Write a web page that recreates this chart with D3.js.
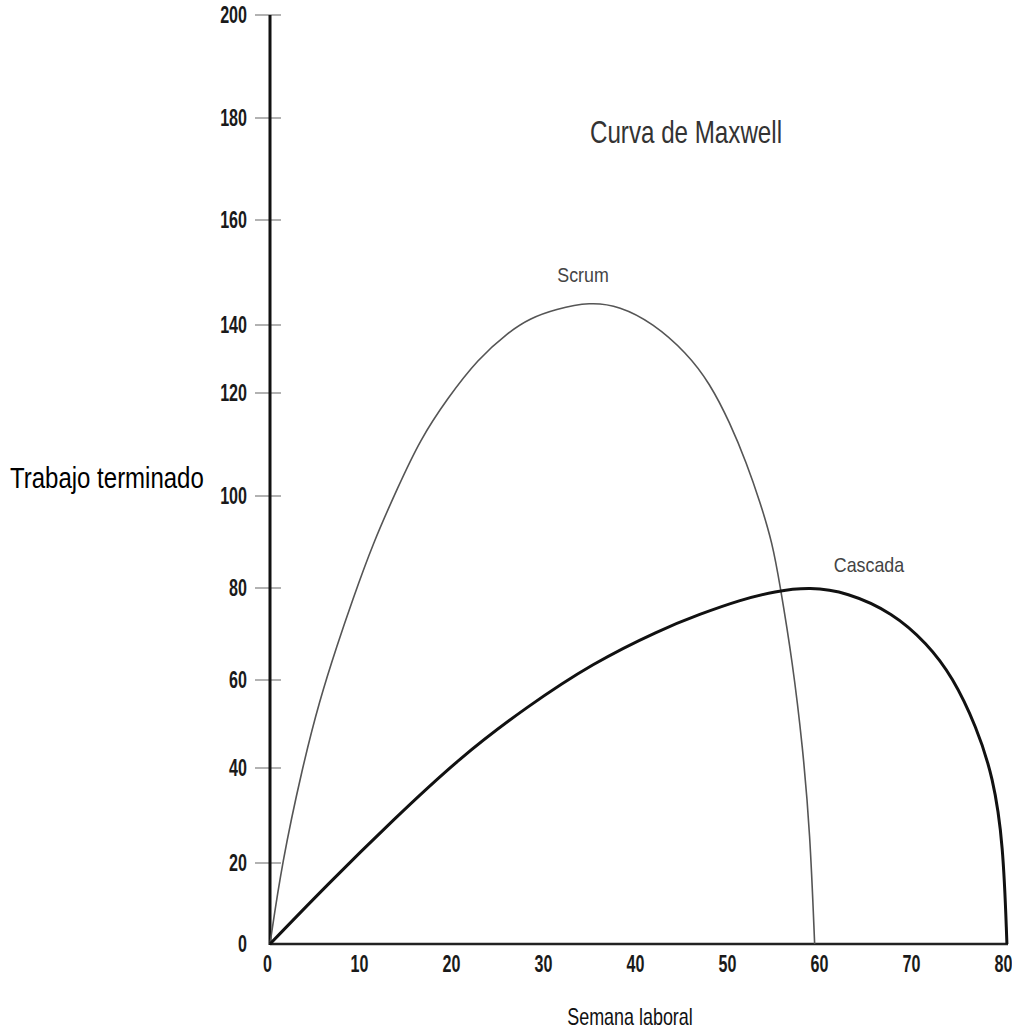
<!DOCTYPE html>
<html>
<head>
<meta charset="utf-8">
<script src="https://cdn.jsdelivr.net/npm/d3@7"></script>
<style>
  body { margin: 0; background: #fff; }
  text { font-family: 'Liberation Sans', Arial, sans-serif; }
</style>
</head>
<body>
<div class="board"></div>
<script>
// data
var xTicks = [0, 10, 20, 30, 40, 50, 60, 70, 80];
var yTicks = [0, 20, 40, 60, 80, 100, 120, 140, 160, 180, 200];

var scrumX = [0, 1.3, 3.5, 5.4, 7.3, 8.9, 11.2, 13.9, 16.3, 19.3, 22.6, 25.9, 28.3, 31, 34.8, 38, 41.6, 45.3, 47.8, 50, 51.8, 53.3, 54.6, 55.4, 56.8, 57.9, 58.7, 59.2];
var scrumY = [0, 20, 40, 55.5, 67.6, 77, 89.8, 101.7, 110.9, 119, 130, 137.9, 141.3, 143, 144.4, 143.6, 140.4, 131.8, 122.9, 114.2, 106.4, 98.5, 89.8, 81.1, 63.9, 44.8, 26.5, 0];

var cascadaX = [0, 6.2, 13.4, 20.7, 27.9, 35.1, 42.4, 46.7, 51.1, 54.9, 58.7, 62.7, 67.7, 71.4, 74.2, 76.8, 78.6, 79.7, 80.1];
var cascadaY = [0, 14.6, 29.1, 42.5, 53.9, 63.7, 70.9, 74.3, 77.4, 79.3, 80.2, 79.1, 74.6, 68, 60.7, 49.3, 38.1, 24.2, 0];

// the printed y axis is not evenly spaced, so calibrate it tick by tick
var yTickPixels = [944, 863, 768, 680, 588, 496, 393, 325, 220, 118, 15];

var width = 1012;
var height = 1028;
var narrow = 0.78; // squeeze the glyphs, the original uses a condensed face
var tickNarrow = 0.7;

var svg = d3.select('.board')
            .append('svg')
            .attr('width', width)
            .attr('height', height);

var XScale = d3.scaleLinear().domain([0, 80]).range([270, 1006]);
var YScale = d3.scaleLinear().domain(yTicks).range(yTickPixels);

// y axis labels
var YAxis = d3.axisLeft(YScale).tickValues(yTicks).tickSize(0).tickPadding(23);
var gy = svg.append('g')
            .attr('transform', 'translate(270,0)')
            .call(YAxis);
gy.select('.domain').remove();
gy.selectAll('text')
  .attr('x', -23 / tickNarrow)
  .attr('transform', `scale(${tickNarrow},1)`)
  .attr('font-size', 23)
  .attr('font-weight', 'bold')
  .attr('fill', '#1a1a1a')
  .style('font-family', "'Liberation Sans', Arial, sans-serif");

// little crossing tick marks
svg.append('g')
   .selectAll('line')
   .data(yTicks.slice(1))
   .enter()
   .append('line')
   .attr('x1', 255)
   .attr('x2', 281)
   .attr('y1', d => YScale(d))
   .attr('y2', d => YScale(d))
   .attr('stroke', '#999')
   .attr('stroke-width', 1.5);

// x axis labels
var XAxis = d3.axisBottom(XScale).tickValues(xTicks).tickSize(0).tickPadding(12);
var gx = svg.append('g')
            .attr('transform', 'translate(0,944)')
            .call(XAxis);
gx.select('.domain').remove();
gx.selectAll('text')
  .attr('x', -3 / tickNarrow)
  .attr('transform', `scale(${tickNarrow},1)`)
  .attr('font-size', 23)
  .attr('font-weight', 'bold')
  .attr('fill', '#1a1a1a')
  .style('font-family', "'Liberation Sans', Arial, sans-serif");

// axis lines
svg.append('line')
   .attr('x1', XScale(0)).attr('x2', XScale(80) + 2)
   .attr('y1', YScale(0)).attr('y2', YScale(0))
   .attr('stroke', '#222')
   .attr('stroke-width', 2.5);
svg.append('line')
   .attr('x1', XScale(0)).attr('x2', XScale(0))
   .attr('y1', YScale(0) + 1).attr('y2', YScale(200))
   .attr('stroke', '#111')
   .attr('stroke-width', 3);

// curves
var line = d3.line()
             .x(d => XScale(d[0]))
             .y(d => YScale(d[1]))
             .curve(d3.curveBasis);

svg.append('path')
   .datum(scrumX.map((x, i) => [x, scrumY[i]]))
   .attr('d', line)
   .attr('fill', 'none')
   .attr('stroke', '#555')
   .attr('stroke-width', 1.6);

svg.append('path')
   .datum(cascadaX.map((x, i) => [x, cascadaY[i]]))
   .attr('d', line)
   .attr('fill', 'none')
   .attr('stroke', '#111')
   .attr('stroke-width', 3);

// text helper, squeezed horizontally
function label(x, y, txt, size, fill, anchor, sx) {
  svg.append('text')
     .attr('transform', `translate(${x},${y}) scale(${sx},1)`)
     .attr('text-anchor', anchor)
     .attr('font-size', size)
     .attr('fill', fill)
     .text(txt);
}

label(686, 143, 'Curva de Maxwell', 31, '#333', 'middle', narrow);
label(583, 282, 'Scrum', 21, '#444', 'middle', 0.85);
label(869, 572, 'Cascada', 21, '#444', 'middle', 0.85);
label(10, 488, 'Trabajo terminado', 30, '#000', 'start', 0.8);
label(630, 1025, 'Semana laboral', 23, '#111', 'middle', narrow);
</script>
</body>
</html>
